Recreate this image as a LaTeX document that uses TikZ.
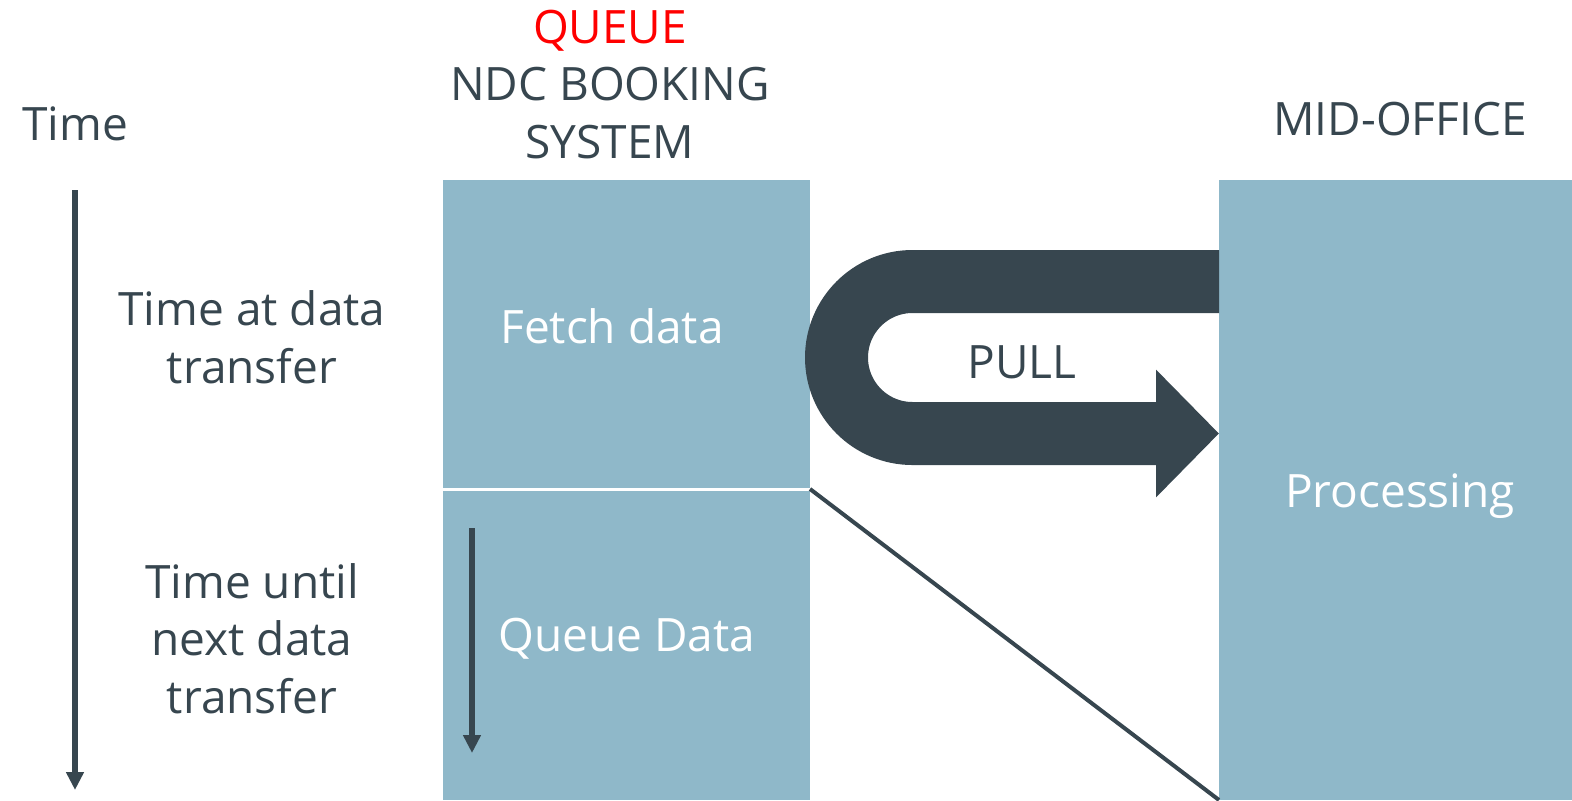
\documentclass[tikz,border=0pt]{standalone}
\usepackage{fontspec}
\setmainfont{Open Sans}
\usetikzlibrary{arrows.meta, positioning}
\definecolor{boxblue}{RGB}{143,184,201}
\definecolor{slate}{RGB}{55,70,79}
\definecolor{qred}{RGB}{255,0,0}

\begin{document}
\begin{tikzpicture}[x=0.5pt, y=-0.5pt,
    every node/.style={font=\fontsize{23}{28.75}\selectfont, text=slate, align=center, inner sep=0pt, anchor=base},
    block/.style={fill=boxblue, anchor=north west, minimum width=183.5pt, outer sep=0pt},
    boxtext/.style={text=white},
    timearrow/.style={-{Triangle[width=8.5pt, length=9pt]}, line width=3pt, slate}]
    \useasboundingbox (0,0) rectangle (1572,800);

    % Titles
    \node (ndc) at (610,158) {\textcolor{qred}{QUEUE}\\NDC BOOKING\\SYSTEM};
    \node (midtitle) at (1400,135) {MID-OFFICE};
    \node (time) at (75,140) {Time};

    % Time line
    \coordinate (tstart) at (75,190);
    \coordinate (tend) at (75,790);
    \draw[timearrow] (tstart) -- (tend);
    \node (attransfer) at (252,383) {Time at data\\transfer};
    \node (untilnext) at (252,713) {Time until\\next data\\transfer};

    % NDC booking system boxes
    \node[block, minimum height=154.5pt] (fetch) at (443,180) {};
    \node[block, minimum height=155.5pt, below=0pt of fetch] (queue) {};
    \draw[white, line width=1.5pt] (fetch.south west) -- (fetch.south east);
    \node[boxtext] (fetchtxt) at (612,343) {Fetch data};
    \node[boxtext] (queuetxt) at (627,651) {Queue Data};
    \coordinate (qstart) at (472,528);
    \coordinate (qend) at (472,753);
    \draw[timearrow] (qstart) -- (qend);

    % Mid-office box
    \node[block, minimum width=176.5pt, minimum height=310pt] (mid) at (1219,180) {};
    \node[boxtext] (proctxt) at (1400,507) {Processing};

    % Pull arrow
    \draw[slate, line width=31.5pt, -{Triangle[width=62pt, length=31.5pt]}]
        ([yshift=-50.75pt]mid.north west) -- ++(-306.5,0)
        arc[start angle=270, end angle=90, radius=76]
        -- ([yshift=-126.75pt]mid.north west);
    \node (pull) at (1022,378) {PULL};

    % Link to processing
    \draw[slate, line width=2pt] (fetch.south east) -- (mid.south west);
\end{tikzpicture}
\end{document}
